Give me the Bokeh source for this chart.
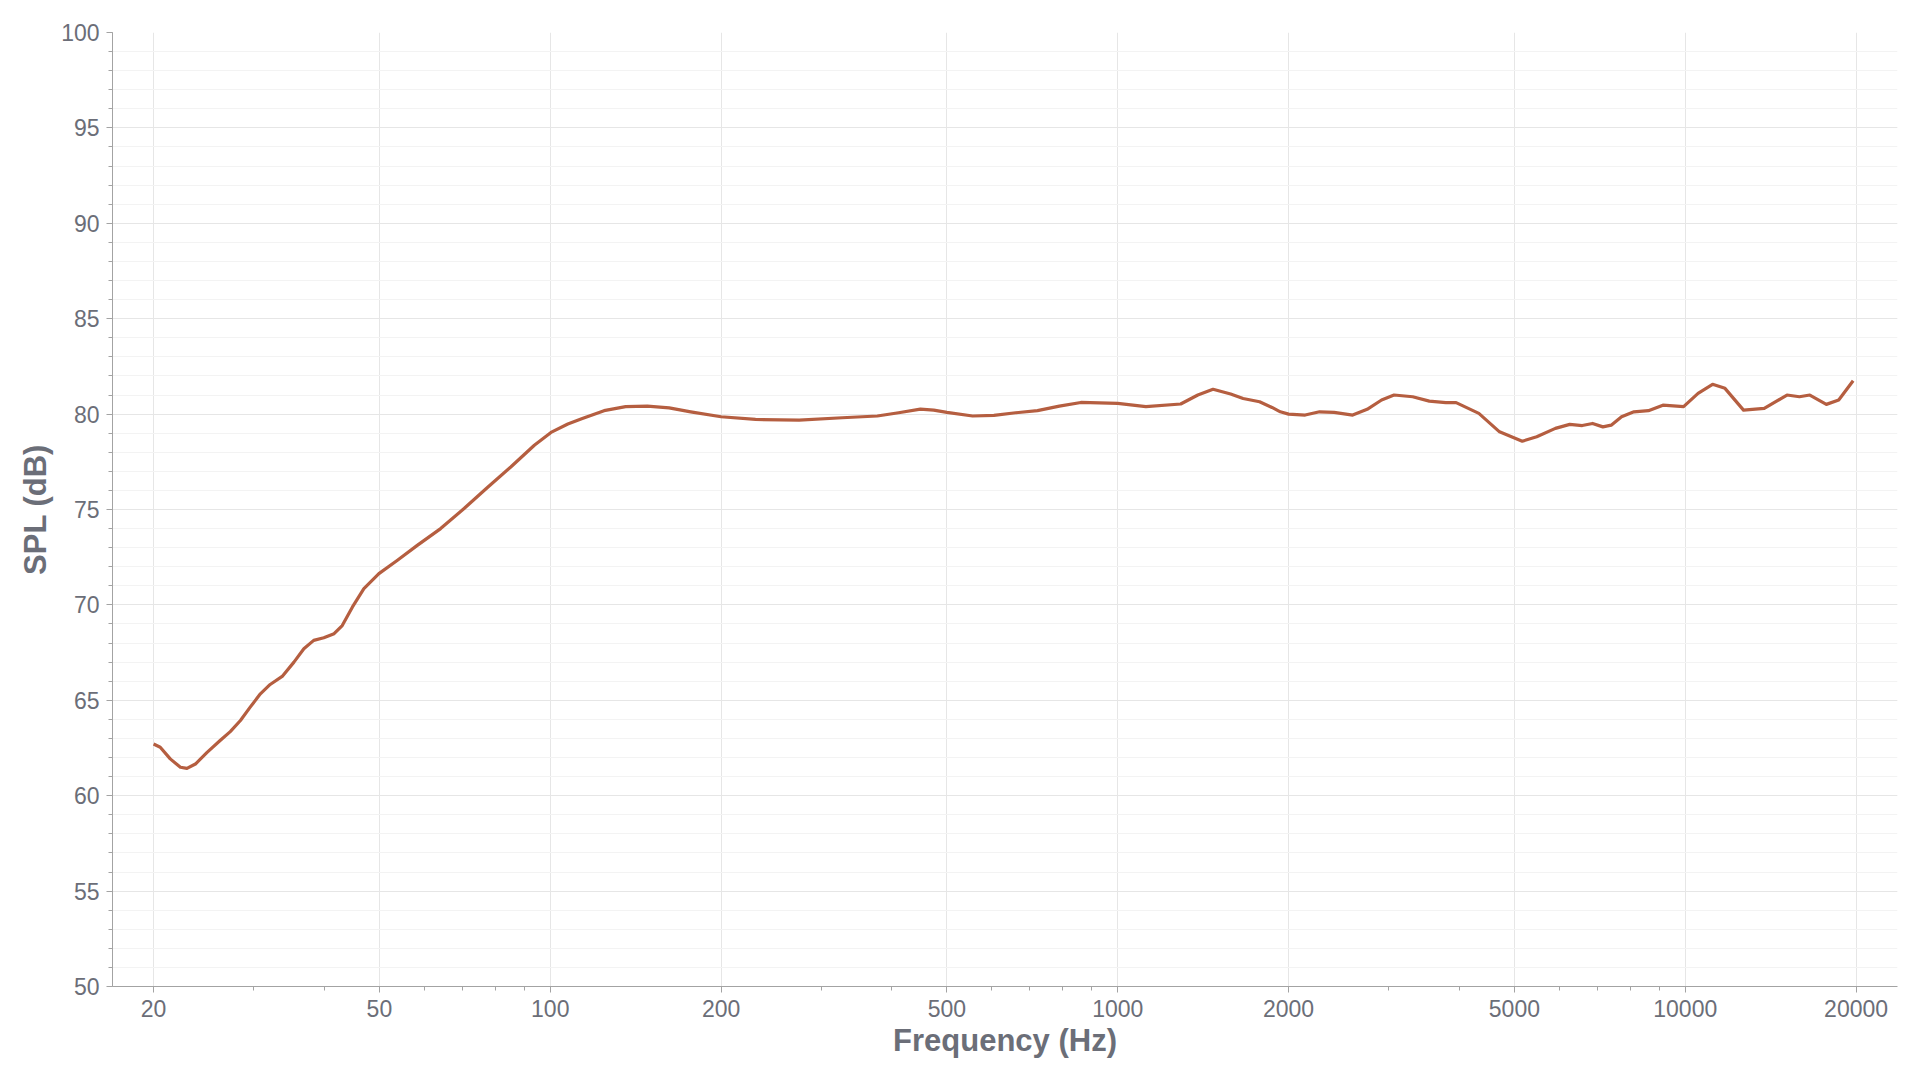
from bokeh.plotting import figure
from bokeh.models import Range1d, FixedTicker, SingleIntervalTicker, NumeralTickFormatter, ColumnDataSource
from bokeh.embed import file_html
from bokeh.resources import INLINE

# Frequency response data
freq_hz = [20.0, 20.55, 21.4, 22.3, 22.9, 23.7, 24.85, 26.2, 27.3, 28.45, 29.6, 30.85,
           32.1, 33.7, 35.35, 36.8, 38.3, 39.9, 41.6, 43.0, 44.8, 46.95, 49.9, 53.8,
           58.3, 64.1, 70.5, 77.5, 85.2, 93.75, 100.3, 107.4, 113.9, 124.4, 135.8,
           148.3, 162, 176.8, 200, 230, 274.5, 327, 377, 411, 449, 474, 500, 555, 605,
           661, 722, 789, 861, 1000, 1121, 1291, 1384, 1472, 1581, 1663, 1778, 1870,
           1934, 2000, 2139, 2268, 2406, 2594, 2751, 2917, 3068, 3309, 3540, 3786,
           3947, 4328, 4707, 5162, 5474, 5904, 6259, 6583, 6866, 7160, 7405, 7723,
           8121, 8612, 9133, 9933, 10534, 11172, 11749, 12668, 13778, 15111, 15893,
           16577, 17728, 18640, 19764]
spl_db = [62.71, 62.54, 61.93, 61.49, 61.43, 61.66, 62.27, 62.89, 63.36, 63.94, 64.64, 65.34,
          65.83, 66.25, 67.0, 67.7, 68.14, 68.28, 68.49, 68.92, 69.88, 70.85, 71.64, 72.34,
          73.12, 74.0, 75.05, 76.15, 77.23, 78.37, 79.04, 79.48, 79.77, 80.18, 80.39,
          80.42, 80.33, 80.12, 79.86, 79.72, 79.68, 79.81, 79.9, 80.07, 80.26, 80.21, 80.09,
          79.9, 79.93, 80.07, 80.18, 80.42, 80.61, 80.56, 80.39, 80.53, 81.0, 81.3, 81.05,
          80.82, 80.65, 80.35, 80.12, 80.0, 79.95, 80.12, 80.09, 79.95, 80.25, 80.74, 81.0,
          80.91, 80.68, 80.6, 80.6, 80.04, 79.07, 78.58, 78.81, 79.25, 79.46, 79.4, 79.51,
          79.33, 79.42, 79.86, 80.12, 80.18, 80.47, 80.39, 81.09, 81.56, 81.35, 80.21,
          80.3, 81.0, 80.91, 81.0, 80.51, 80.74, 81.75]

x_ticks = [20, 50, 100, 200, 500, 1000, 2000, 5000, 10000, 20000]
x_minor = [30, 40, 60, 70, 80, 90, 300, 400, 600, 700, 800, 900,
           3000, 4000, 6000, 7000, 8000, 9000]

TEXT = "#6b6e78"
AXIS = "#a3a3a3"
FONT = "Liberation Sans"

p = figure(width=1904, height=1064, x_axis_type="log",
           x_range=Range1d(16.93, 23660), y_range=Range1d(50, 100),
           output_backend="svg", toolbar_location=None,
           min_border_left=112, min_border_right=7, min_border_top=32, min_border_bottom=78)
p.outline_line_color = None
p.background_fill_color = "white"

src = ColumnDataSource(dict(f=freq_hz, db=spl_db))
p.line("f", "db", source=src, line_color="#b55e40", line_width=3.2, line_join="round")

p.xaxis.ticker = FixedTicker(ticks=x_ticks, minor_ticks=x_minor)
p.xaxis.formatter = NumeralTickFormatter(format="0")
p.yaxis.ticker = SingleIntervalTicker(interval=5, num_minor_ticks=5)

p.xaxis.axis_label = "Frequency (Hz)"
p.yaxis.axis_label = "SPL (dB)"

for ax in (p.xaxis, p.yaxis):
    ax.axis_line_color = AXIS
    ax.major_tick_line_color = AXIS
    ax.minor_tick_line_color = AXIS
    ax.major_tick_out = 6
    ax.major_tick_in = 0
    ax.minor_tick_out = 4
    ax.minor_tick_in = 0
    ax.major_label_text_font = FONT
    ax.major_label_text_font_size = "23px"
    ax.major_label_text_color = TEXT
    ax.axis_label_text_font = FONT
    ax.axis_label_text_font_size = "31px"
    ax.axis_label_text_font_style = "bold"
    ax.axis_label_text_color = TEXT

p.yaxis.major_label_standoff = 7
p.yaxis.axis_label_standoff = 5
p.xaxis.major_label_standoff = 7
p.xaxis.axis_label_standoff = 3

p.xgrid.grid_line_color = "#e6e6e6"
p.ygrid.grid_line_color = "#e6e6e6"
p.ygrid.minor_grid_line_color = "#f3f3f3"

open("out.html", "w").write(file_html(p, INLINE))
